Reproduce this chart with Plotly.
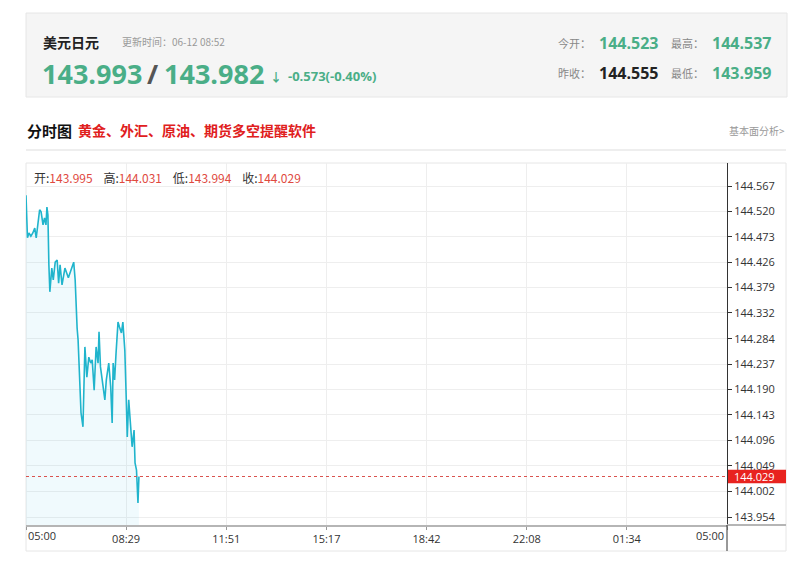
import plotly.graph_objects as go

# page has an 8px body margin; figure sized to fit the window exactly
OFF = 8
W, H = 800 - OFF, 562 - OFF

# ---------------- data ----------------
minutes = [0, 1.4, 3, 6, 10, 14, 18, 21, 25, 28, 31, 35, 38, 41, 43, 45, 47, 49, 53, 56,
           60, 64, 67, 70, 74, 80, 87, 92, 98, 101, 102, 105, 107, 113, 117, 121, 125, 129,
           133, 136, 140, 144, 148, 150, 153, 156, 162, 165, 170, 174, 177, 179, 182, 185,
           189, 192, 196, 199, 203, 206, 208, 211, 215, 218, 222, 224, 227, 230, 232]
prices = [144.550, 144.482, 144.471, 144.480, 144.474, 144.480, 144.489, 144.471, 144.500,
          144.523, 144.519, 144.495, 144.508, 144.495, 144.528, 144.513, 144.421, 144.371,
          144.415, 144.393, 144.426, 144.430, 144.387, 144.421, 144.384, 144.415, 144.397,
          144.411, 144.426, 144.393, 144.365, 144.304, 144.282, 144.147, 144.121, 144.269,
          144.213, 144.250, 144.239, 144.245, 144.189, 144.269, 144.239, 144.297, 144.232,
          144.208, 144.171, 144.208, 144.239, 144.195, 144.128, 144.239, 144.208, 144.258,
          144.315, 144.306, 144.295, 144.315, 144.263, 144.171, 144.102, 144.171, 144.128,
          144.084, 144.115, 144.054, 144.041, 143.980, 144.029]

x_tick_labels = ["05:00", "08:29", "11:51", "15:17", "18:42", "22:08", "01:34", "05:00"]
y_tick_values = [144.567, 144.520, 144.473, 144.426, 144.379, 144.332, 144.284, 144.237,
                 144.190, 144.143, 144.096, 144.049, 144.002, 143.954]
last_close = 144.029

bid, ask = "143.993", "143.982"
change_text = "-0.573(-0.40%)"
today_open, prev_close, day_high, day_low = "144.523", "144.555", "144.537", "143.959"
bar_open, bar_high, bar_low, bar_close = "143.995", "144.031", "143.994", "144.029"

# ---------------- helpers (window pixels -> paper) ----------------
def PX(x):
    return (x - OFF) / W

def PY(y):
    return 1 - (y - OFF) / H

GREEN = "#4aae87"
FONT = "Open Sans, Noto Sans CJK SC, sans-serif"
CJK = "Noto Sans CJK SC, Open Sans, sans-serif"

plot_left, plot_right, plot_top, plot_bottom = 26, 727, 163, 525
y_min, y_max = 143.9392, 144.6096
x_max = 1440
n_ticks = len(x_tick_labels)
x_tick_vals = [i * x_max / (n_ticks - 1) for i in range(n_ticks)]

fig = go.Figure()
fig.add_trace(go.Scatter(
    x=minutes, y=prices, mode="lines",
    line=dict(color="#20b4cc", width=1.6),
    fill="tozeroy", fillcolor="rgba(40,180,225,0.07)",
    hoverinfo="skip", showlegend=False,
))
fig.add_trace(go.Scatter(
    x=[0, x_max], y=[last_close, last_close], mode="lines",
    line=dict(color="#d9534f", width=1, dash="dot"),
    hoverinfo="skip", showlegend=False,
))

shapes = []
shapes.append(dict(type="rect", xref="paper", yref="paper", x0=PX(26), x1=PX(787),
                   y0=PY(97), y1=PY(13), fillcolor="#f5f5f5",
                   line=dict(color="#e6e6e6", width=1), layer="below"))
shapes.append(dict(type="line", xref="paper", yref="paper", x0=PX(26), x1=PX(786),
                   y0=PY(150), y1=PY(150), line=dict(color="#dddddd", width=1)))
shapes.append(dict(type="rect", xref="paper", yref="paper", x0=PX(26), x1=PX(786),
                   y0=PY(551), y1=PY(163), line=dict(color="#e6e6e6", width=1), layer="below"))
shapes.append(dict(type="line", xref="paper", yref="paper", x0=PX(727), x1=PX(786),
                   y0=PY(525), y1=PY(525), line=dict(color="#b5b5b5", width=2)))
shapes.append(dict(type="line", xref="paper", yref="paper", x0=PX(727), x1=PX(727),
                   y0=PY(551), y1=PY(525), line=dict(color="#333333", width=1)))
shapes.append(dict(type="rect", xref="paper", yref="y", x0=PX(728), x1=PX(786),
                   y0=last_close - 0.0125, y1=last_close + 0.0125,
                   fillcolor="#e8231f", line=dict(width=0)))

ann = []
def text(x, y, s, size, color="#333", anchor="left", family=FONT, yanchor="middle", yref="paper"):
    ann.append(dict(x=PX(x), y=(PY(y) if yref == "paper" else y), xref="paper", yref=yref,
                    text=s, showarrow=False, xanchor=anchor, yanchor=yanchor,
                    font=dict(size=size, color=color, family=family)))

# header
text(41, 42, "<b>美元日元</b>", 14, "#222", family=CJK)
text(120, 42, "更新时间：06-12 08:52", 10, "#999", family=CJK)
text(40, 73, f"<b>{bid}</b>", 27, GREEN)
text(145, 73, "<b>/</b>", 27, "#555")
text(162, 73, f"<b>{ask}</b>", 27, GREEN)
text(268, 77, "<b>↓</b>", 12, GREEN)
text(286, 76, f"<b>{change_text}</b>", 13, GREEN)

text(593, 43, "今开：", 11, "#888", anchor="right", family=CJK)
text(597, 43, f"<b>{today_open}</b>", 16, GREEN)
text(706, 43, "最高：", 11, "#888", anchor="right", family=CJK)
text(710, 43, f"<b>{day_high}</b>", 16, GREEN)
text(593, 73, "昨收：", 11, "#888", anchor="right", family=CJK)
text(597, 73, f"<b>{prev_close}</b>", 16, "#222")
text(706, 73, "最低：", 11, "#888", anchor="right", family=CJK)
text(710, 73, f"<b>{day_low}</b>", 16, GREEN)

# title row
text(25, 130, "<b>分时图</b>", 15, "#111", family=CJK)
text(76, 130, "<b>黄金、外汇、原油、期货多空提醒软件</b>", 14, "#e0201d", family=CJK)
text(787, 130, "基本面分析&gt;", 10, "#999", anchor="right", family=CJK)

# info row
rc = "#e04a3f"
sep = "&nbsp;&nbsp;&nbsp;&nbsp;"
info = (f"开:<span style='color:{rc}'>{bar_open}</span>{sep}"
        f"高:<span style='color:{rc}'>{bar_high}</span>{sep}"
        f"低:<span style='color:{rc}'>{bar_low}</span>{sep}"
        f"收:<span style='color:{rc}'>{bar_close}</span>")
text(32, 177, info, 12, "#333", family=CJK)

# red price label
text(732, last_close, f"{last_close:.3f}", 11, "#ffffff", yref="y")

# first / last x tick labels aligned inward
text(26, 535, x_tick_labels[0], 11, "#333")
text(726, 535, x_tick_labels[-1], 11, "#333", anchor="right")

ticktext_inner = [""] + x_tick_labels[1:-1] + [""]

fig.update_layout(
    width=W, height=H, autosize=False,
    margin=dict(l=0, r=0, t=0, b=0),
    paper_bgcolor="white", plot_bgcolor="white",
    shapes=shapes, annotations=ann,
    font=dict(family=FONT, size=11, color="#333"),
    xaxis=dict(domain=[PX(plot_left), PX(plot_right)], range=[0, x_max],
               tickvals=x_tick_vals, ticktext=ticktext_inner,
               showgrid=True, gridcolor="#eeeeee", gridwidth=1,
               showline=True, linecolor="#b5b5b5", linewidth=2,
               ticks="outside", ticklen=3, tickcolor="#999",
               tickfont=dict(size=11, color="#333"), zeroline=False, fixedrange=True),
    yaxis=dict(domain=[PY(plot_bottom), PY(plot_top)], range=[y_min, y_max],
               side="right", tickvals=y_tick_values,
               ticktext=[f"{v:.3f}" for v in y_tick_values],
               showgrid=True, gridcolor="#eeeeee", gridwidth=1,
               showline=True, linecolor="#333", linewidth=1, mirror=False,
               ticks="outside", ticklen=4, tickcolor="#333",
               tickfont=dict(size=11, color="#333"), zeroline=False, fixedrange=True),
)

fig.write_html("out.html")
